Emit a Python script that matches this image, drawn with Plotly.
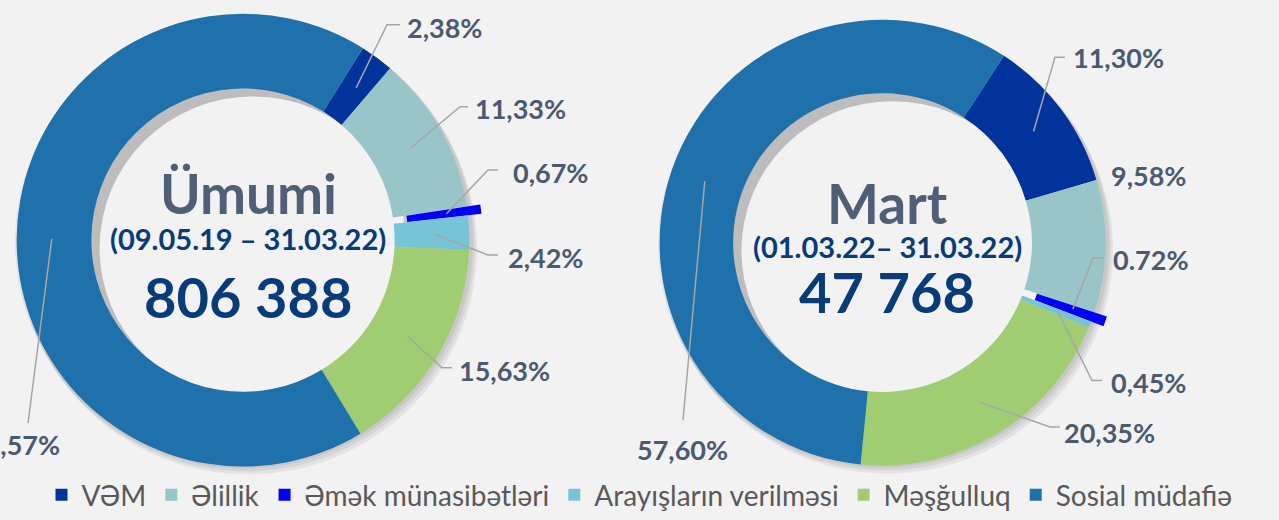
import numpy as np
import plotly.graph_objects as go

W, H = 1279, 520

labels = ["VƏM", "Əlillik", "Əmək münasibətləri", "Arayışların verilməsi", "Məşğulluq", "Sosial müdafiə"]
colors = ["#00349a", "#99c4c8", "#0000ff", "#77c4d6", "#a0cd72", "#1e71ab"]

umumi_values = [2.38, 11.33, 0.67, 2.42, 15.63, 67.57]
umumi_text = ["2,38%", "11,33%", "0,67%", "2,42%", "15,63%", "67,57%"]
umumi_title = ["Ümumi", "(09.05.19 – 31.03.22)", "806 388"]

mart_values = [11.30, 9.58, 0.72, 0.45, 20.35, 57.60]
mart_text = ["11,30%", "9,58%", "0.72%", "0,45%", "20,35%", "57,60%"]
mart_title = ["Mart", "(01.03.22– 31.03.22)", "47 768"]

PULL = 0.06
HOLE = 0.67
PULLED = 2  # Əmək münasibətləri slice

SLATE = "#4b5a70"
NAVY = "#073b7a"
LINE = "#a6a6a6"
BG = "#f2f2f2"
FONT = "Lato"


def px(x):
    return x / W


def py(y):
    return 1 - y / H


# layout of each donut: centre, radius, rotation, leader elbows and label anchors (pixels)
charts = [
    dict(values=umumi_values, text=umumi_text, title=umumi_title,
         cx=243, cy=243, r=229, rot=32, tx=248, ty=[195, 241, 300],
         leaders=[
             ([(387, 25), (400, 25)], (405, 28, "left")),
             ([(460, 108), (468, 108)], (473, 110, "left")),
             ([(488, 172), (498, 172)], (511, 175, "left")),
             ([(488, 258), (498, 258)], (506, 261, "left")),
             ([(442, 372), (452, 372)], (457, 375, "left")),
             ([(28, 428)], (14, 450, "center")),
         ]),
    dict(values=mart_values, text=mart_text, title=mart_title,
         cx=882.5, cy=245.5, r=225.5, rot=33, tx=887, ty=[205, 249, 295],
         leaders=[
             ([(1055, 58), (1065, 58)], (1071, 58, "left")),
             ([], (1109, 178, "left")),
             ([(1093, 261), (1104, 261)], (1111, 263, "left")),
             ([(1092, 385), (1102, 385)], (1109, 387, "left")),
             ([(1050, 432), (1060, 432)], (1062, 438, "left")),
             ([(683, 425)], (682, 455, "center")),
         ]),
]


def circle(cx, cy, r, color, dx=0, dy=0):
    return dict(type="circle", xref="paper", yref="paper", layer="below",
                x0=px(cx + dx - r), x1=px(cx + dx + r),
                y0=py(cy + dy + r), y1=py(cy + dy - r),
                fillcolor=color, line_width=0)


def mid_points(values, cx, cy, r, rot):
    v = np.array(values, dtype=float)
    frac = v / v.sum()
    start = np.concatenate([[0], np.cumsum(frac)[:-1]])
    ang = np.radians(rot + (start + frac / 2) * 360)
    rr = np.full(len(v), r * (1 + HOLE) / 2)
    rr[PULLED] += PULL * r
    return cx + rr * np.sin(ang), cy - rr * np.cos(ang)


fig = go.Figure()
shapes = []
annotations = []

for c in charts:
    half = c["r"] * (1 + PULL)
    pull = [0] * len(labels)
    pull[PULLED] = PULL
    fig.add_trace(go.Pie(
        labels=labels, values=c["values"], hole=HOLE, sort=False,
        direction="clockwise", rotation=c["rot"], pull=pull,
        marker=dict(colors=colors, line=dict(width=0)),
        textinfo="none", hoverinfo="label+percent",
        domain=dict(x=[max(0, px(c["cx"] - half)), min(1, px(c["cx"] + half))],
                    y=[max(0, py(c["cy"] + half)), min(1, py(c["cy"] - half))]),
    ))

    # soft drop shadow under the ring
    for dx, dy in [(1, 2), (3, 5), (5, 8)]:
        shapes.append(circle(c["cx"], c["cy"], c["r"], "rgba(0,0,0,0.06)", dx, dy))
    # inner shadow of the hole
    rh = c["r"] * HOLE
    shapes.append(circle(c["cx"], c["cy"], rh, "#bdbdbd"))
    shapes.append(circle(c["cx"], c["cy"], rh, BG, 10, 8))

    xs, ys = mid_points(c["values"], c["cx"], c["cy"], c["r"], c["rot"])
    for i, (pts, (lx, ly, anchor)) in enumerate(c["leaders"]):
        if pts:
            path = "M %f,%f" % (px(xs[i]), py(ys[i]))
            for x, y in pts:
                path += " L %f,%f" % (px(x), py(y))
            shapes.append(dict(type="path", xref="paper", yref="paper", path=path,
                               line=dict(color=LINE, width=1.5), layer="above"))
        annotations.append(dict(x=px(lx), y=py(ly), xref="paper", yref="paper",
                                text="<b>%s</b>" % c["text"][i], showarrow=False,
                                xanchor=anchor, yanchor="middle",
                                font=dict(family=FONT, size=27, color=SLATE)))

    t = c["title"]
    annotations.append(dict(x=px(c["tx"]), y=py(c["ty"][0]), xref="paper", yref="paper",
                            text="<b>%s</b>" % t[0], showarrow=False, xanchor="center",
                            yanchor="middle", font=dict(family=FONT, size=55, color="#505f75")))
    annotations.append(dict(x=px(c["tx"]), y=py(c["ty"][1]), xref="paper", yref="paper",
                            text="<b>%s</b>" % t[1], showarrow=False, xanchor="center",
                            yanchor="middle", font=dict(family=FONT, size=29, color=NAVY)))
    annotations.append(dict(x=px(c["tx"]), y=py(c["ty"][2]), xref="paper", yref="paper",
                            text="<b>%s</b>" % t[2], showarrow=False, xanchor="center",
                            yanchor="middle", font=dict(family=FONT, size=56, color=NAVY)))

fig.update_layout(
    width=W, height=H,
    margin=dict(l=0, r=0, t=0, b=0),
    paper_bgcolor=BG, plot_bgcolor=BG,
    shapes=shapes, annotations=annotations,
    showlegend=True,
    legend=dict(orientation="h", x=0.5, xanchor="center", y=py(501), yanchor="middle",
                font=dict(family=FONT, size=28, color="#595959"),
                bgcolor="rgba(0,0,0,0)"),
)

# drop the default 8px body margin so the figure sits flush in the window
fig.write_html("out.html", config={"displayModeBar": False},
               post_script="document.body.style.margin='0';")
